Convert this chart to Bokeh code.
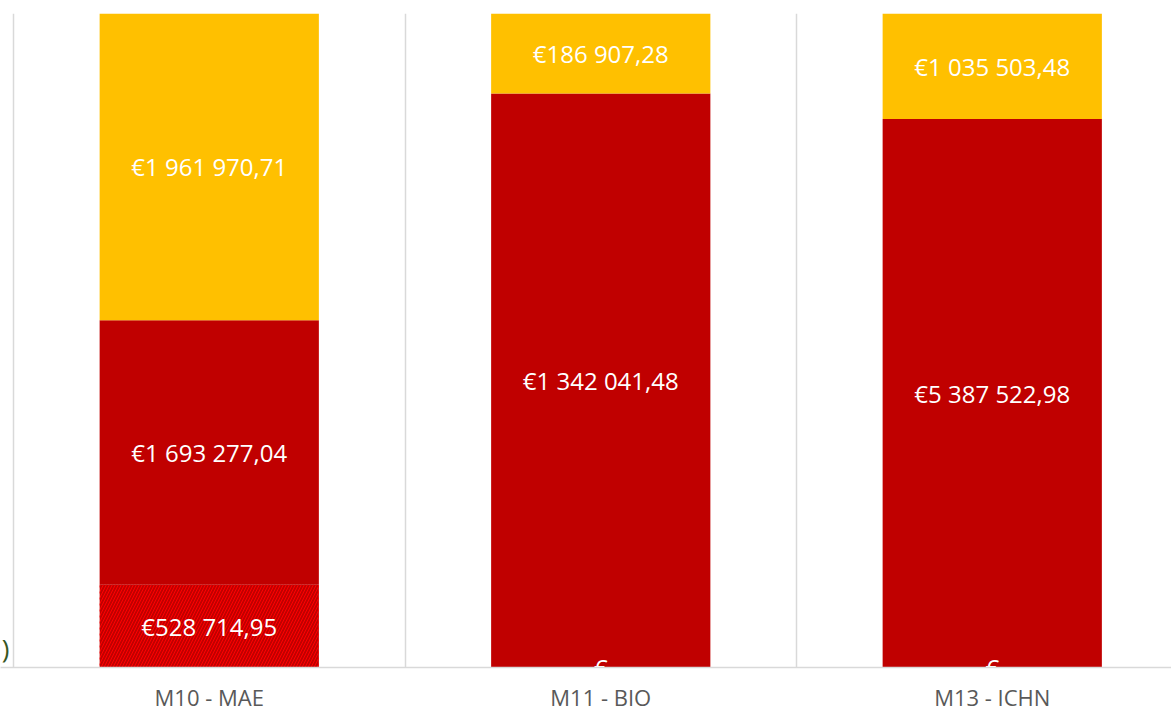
import numpy as np
from bokeh.plotting import figure
from bokeh.models import ColumnDataSource, Range1d, FixedTicker, Label
from bokeh.core.properties import value
from bokeh.embed import file_html
from bokeh.resources import INLINE

# ---- data ----
categories = ["M10 - MAE", "M11 - BIO", "M13 - ICHN"]
hatched_vals = [528714.95, 0.0, 0.0]
red_vals = [1693277.04, 1342041.48, 5387522.98]
yellow_vals = [1961970.71, 186907.28, 1035503.48]

def fmt(v):
    if v == 0:
        return "€"
    s = f"{v:,.2f}"
    return "€" + s.replace(",", " ").replace(".", ",")

h = np.array(hatched_vals)
r = np.array(red_vals)
yv = np.array(yellow_vals)
tot = h + r + yv
h_s, r_s, y_s = h / tot, r / tot, yv / tot

xs = np.arange(len(categories)) + 0.5

src = ColumnDataSource(dict(
    x=xs,
    h0=np.zeros_like(h_s), h1=h_s,
    r0=h_s, r1=h_s + r_s,
    y0=h_s + r_s, y1=h_s + r_s + y_s,
    hm=h_s / 2, rm=h_s + r_s / 2, ym=h_s + r_s + y_s / 2,
    hl=[fmt(v) for v in hatched_vals],
    rl=[fmt(v) for v in red_vals],
    yl=[fmt(v) for v in yellow_vals],
))

W, H = 1171, 714
CW = 391.5          # pixel width of one category
OFF = 13            # pixel offset of first category boundary
p = figure(width=W, height=H, output_backend="svg", toolbar_location=None,
           x_range=Range1d(-OFF / CW, (W - OFF) / CW), y_range=Range1d(0, 1),
           min_border_left=0, min_border_right=0, min_border_top=13,
           min_border_bottom=0)
p.outline_line_color = None
p.background_fill_color = "white"
p.border_fill_color = "white"

bw = 0.56
p.vbar(x="x", bottom="h0", top="h1", width=bw, source=src,
       fill_color="#C00000", line_color=None,
       hatch_pattern="/", hatch_color="#FF0000", hatch_scale=6, hatch_weight=1.0)
p.vbar(x="x", bottom="r0", top="r1", width=bw, source=src,
       fill_color="#C00000", line_color=None)
p.vbar(x="x", bottom="y0", top="y1", width=bw, source=src,
       fill_color="#FFC000", line_color=None)

for col, lab in (("hm", "hl"), ("rm", "rl"), ("ym", "yl")):
    p.text(x="x", y=col, text=lab, source=src, text_color="white",
           text_font=value("Open Sans"), text_font_size="24px",
           text_align="center", text_baseline="middle")

# axes
p.yaxis.visible = False
p.ygrid.grid_line_color = None
xa = p.xaxis[0]
xa.ticker = FixedTicker(ticks=list(xs))
xa.major_label_overrides = {float(x): c for x, c in zip(xs, categories)}
xa.major_tick_line_color = None
xa.major_tick_out = 0
xa.minor_tick_line_color = None
xa.axis_line_color = "#D9D9D9"
xa.axis_line_width = 1.5
xa.major_label_text_font = "Open Sans"
xa.major_label_text_font_size = "22px"
xa.major_label_text_line_height = 1.0
xa.major_label_text_color = "#595959"
xa.major_label_standoff = 14

p.xgrid.ticker = FixedTicker(ticks=[0, 1, 2, 3])
p.xgrid.grid_line_color = "#D9D9D9"
p.xgrid.grid_line_width = 1.5

p.add_layout(Label(x=9, y=20, x_units="screen", y_units="screen", text=")",
                   text_align="right", text_baseline="middle",
                   text_color="#375623", level="overlay",
                   text_font="Open Sans", text_font_size="26px"))

open("out.html", "w").write(file_html(p, INLINE))
